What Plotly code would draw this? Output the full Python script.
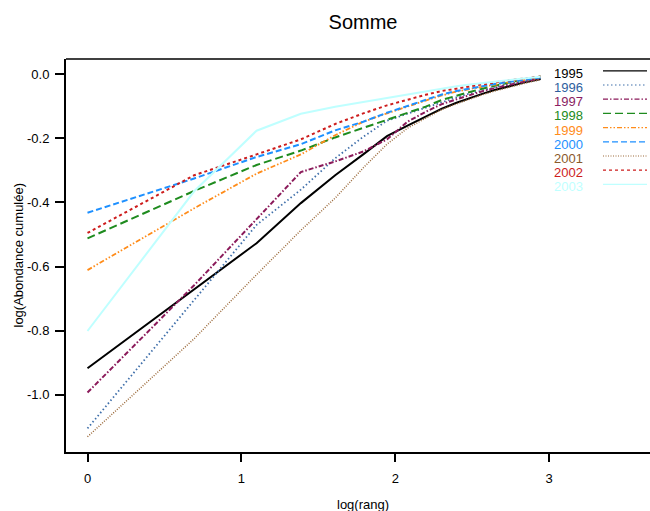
import numpy as np
import plotly.graph_objects as go

# ---- data ----
rang = list(range(1, 20))
log_rang = np.log(rang)

annees = ["1995", "1996", "1997", "1998", "1999", "2000", "2001", "2002", "2003"]

y1995 = [-0.917, -0.671, -0.527, -0.402, -0.315, -0.250, -0.193, -0.160, -0.131, -0.107,
         -0.089, -0.074, -0.061, -0.050, -0.041, -0.033, -0.026, -0.020, -0.015]
y1996 = [-1.105, -0.705, -0.470, -0.360, -0.262, -0.195, -0.145, -0.123, -0.104, -0.086,
         -0.072, -0.060, -0.050, -0.041, -0.034, -0.027, -0.021, -0.016, -0.012]
y1997 = [-0.993, -0.658, -0.452, -0.305, -0.272, -0.241, -0.203, -0.148, -0.117, -0.093,
         -0.078, -0.064, -0.053, -0.044, -0.036, -0.029, -0.023, -0.018, -0.014]
y1998 = [-0.512, -0.364, -0.283, -0.238, -0.197, -0.168, -0.143, -0.121, -0.101, -0.080,
         -0.066, -0.055, -0.045, -0.036, -0.029, -0.022, -0.016, -0.011, -0.007]
y1999 = [-0.611, -0.418, -0.310, -0.250, -0.190, -0.148, -0.122, -0.100, -0.082, -0.066,
         -0.054, -0.046, -0.039, -0.033, -0.027, -0.022, -0.018, -0.014, -0.011]
y2000 = [-0.432, -0.325, -0.258, -0.218, -0.175, -0.148, -0.120, -0.098, -0.080, -0.063,
         -0.052, -0.044, -0.037, -0.031, -0.026, -0.021, -0.017, -0.013, -0.010]
y2001 = [-1.131, -0.825, -0.625, -0.487, -0.386, -0.292, -0.218, -0.168, -0.137, -0.110,
         -0.092, -0.077, -0.064, -0.053, -0.044, -0.035, -0.028, -0.022, -0.017]
y2002 = [-0.495, -0.315, -0.250, -0.203, -0.155, -0.122, -0.097, -0.079, -0.064, -0.052,
         -0.044, -0.037, -0.031, -0.026, -0.021, -0.017, -0.013, -0.010, -0.007]
y2003 = [-0.801, -0.365, -0.176, -0.123, -0.101, -0.086, -0.073, -0.062, -0.052, -0.044,
         -0.037, -0.032, -0.027, -0.023, -0.019, -0.016, -0.013, -0.010, -0.008]

series = [y1995, y1996, y1997, y1998, y1999, y2000, y2001, y2002, y2003]

x_ticks = [0, 1, 2, 3]
y_ticks = [0.0, -0.2, -0.4, -0.6, -0.8, -1.0]
y_tick_labels = ["0.0", "-0.2", "-0.4", "-0.6", "-0.8", "-1.0"]

# ---- styles ----
line_colors = ["#000000", "#3F6FAA", "#8B1A5A", "#1E8B1E", "#FF8C1A",
               "#1E90FF", "#9B6A3B", "#CD1C1C", "#BFFFFF"]
text_colors = ["#000000", "#2E5E9E", "#8B1C62", "#228B22", "#FF8C1A",
               "#1E90FF", "#8B5A2B", "#CD1C1C", "#BFFFFF"]
dashes = ["solid", "1.5px,2.5px", "5px,2px,1.5px,2px", "8px,4px",
          "5px,2px,1.5px,2px,1.5px,2px", "6px,3px", "1px,1.5px", "3px,3px", "solid"]
widths = [2, 1.8, 2, 2, 1.8, 2, 1.5, 2, 2]

FONT = "Liberation Sans, Arial, sans-serif"

W, H = 650, 511
L, R, T, B = 66, 650, 59, 452  # plot area in pixels


def px_to_paper_x(px):
    return (px - L) / (R - L)


def py_to_paper_y(py):
    return (B - py) / (B - T)


fig = go.Figure()
for name, ys, col, d, w in zip(annees, series, line_colors, dashes, widths):
    fig.add_trace(go.Scatter(x=log_rang, y=ys, mode="lines", name=name,
                             line=dict(color=col, dash=d, width=w),
                             showlegend=False))

shapes = [dict(type="line", xref="paper", yref="paper", x0=0, x1=1, y0=1, y1=1,
               line=dict(color="black", width=1.5))]
annotations = []

# legend (text left, line sample right)
for i, name in enumerate(annees):
    yc = 73.3 + 14.2 * i
    annotations.append(dict(text=name, xref="paper", yref="paper",
                            x=px_to_paper_x(552), y=py_to_paper_y(yc),
                            xanchor="left", yanchor="middle", showarrow=False,
                            font=dict(family=FONT, size=13, color=text_colors[i])))
    shapes.append(dict(type="line", xref="paper", yref="paper",
                       x0=px_to_paper_x(603), x1=px_to_paper_x(647),
                       y0=py_to_paper_y(yc - 2.5), y1=py_to_paper_y(yc - 2.5),
                       line=dict(color=line_colors[i], dash=dashes[i], width=1.2)))

# axis titles
annotations.append(dict(text="log(Abondance cumulée)", xref="paper", yref="paper",
                        x=px_to_paper_x(18), y=0.5, textangle=-90,
                        xanchor="center", yanchor="middle", showarrow=False,
                        font=dict(family=FONT, size=13, color="black")))
annotations.append(dict(text="log(rang)", xref="paper", yref="paper",
                        x=px_to_paper_x(363), y=py_to_paper_y(504),
                        xanchor="center", yanchor="middle", showarrow=False,
                        font=dict(family=FONT, size=13, color="black")))

fig.update_layout(
    width=W, height=H,
    margin=dict(l=L, r=W - R, t=T, b=H - B, pad=0),
    paper_bgcolor="white", plot_bgcolor="white",
    title=dict(text="Somme", x=363 / W, xref="container", xanchor="center",
               y=1 - 22 / H, yref="container", yanchor="middle",
               font=dict(family=FONT, size=20, color="black")),
    font=dict(family=FONT, size=13, color="black"),
    shapes=shapes, annotations=annotations,
    xaxis=dict(range=[-0.1397, 3.655], tickvals=x_ticks,
               ticktext=[str(t) for t in x_ticks],
               showgrid=False, zeroline=False, showline=True,
               linecolor="black", linewidth=2, ticks="outside", ticklen=8,
               tickwidth=1.5, tickcolor="black", ticklabelstandoff=5,
               tickfont=dict(family=FONT, size=13, color="black")),
    yaxis=dict(range=[-1.1785, 0.0477], tickvals=y_ticks, ticktext=y_tick_labels,
               showgrid=False, zeroline=False, showline=True,
               linecolor="black", linewidth=2, ticks="outside", ticklen=9,
               tickwidth=1.5, tickcolor="black", ticklabelstandoff=3,
               tickfont=dict(family=FONT, size=13, color="black")),
)

fig.write_html("out.html")
